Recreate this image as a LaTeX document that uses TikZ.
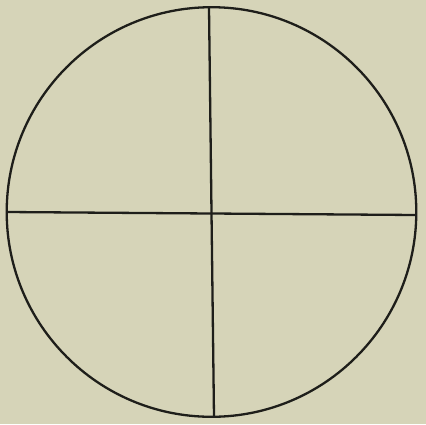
\documentclass[tikz,border=0pt]{standalone}
\definecolor{paper}{HTML}{D6D4B8}
\definecolor{ink}{HTML}{1E1E1A}
\begin{document}
\begin{tikzpicture}[x=1pt,y=-1pt,line width=2.3pt,
  stroke/.style={draw=ink}]
\fill[paper] (0,0) rectangle (426,424);
\useasboundingbox (0,0) rectangle (426,424);
\coordinate (c) at (211.5,212);
\draw[stroke] (c) circle[radius=204.8];
\coordinate (t) at (209,7.5);
\coordinate (b) at (214,417);
\coordinate (l) at (6.8,212);
\coordinate (r) at (416.3,215);
\draw[stroke] (t) -- (b);
\draw[stroke] (l) -- (r);
\end{tikzpicture}
\end{document}
